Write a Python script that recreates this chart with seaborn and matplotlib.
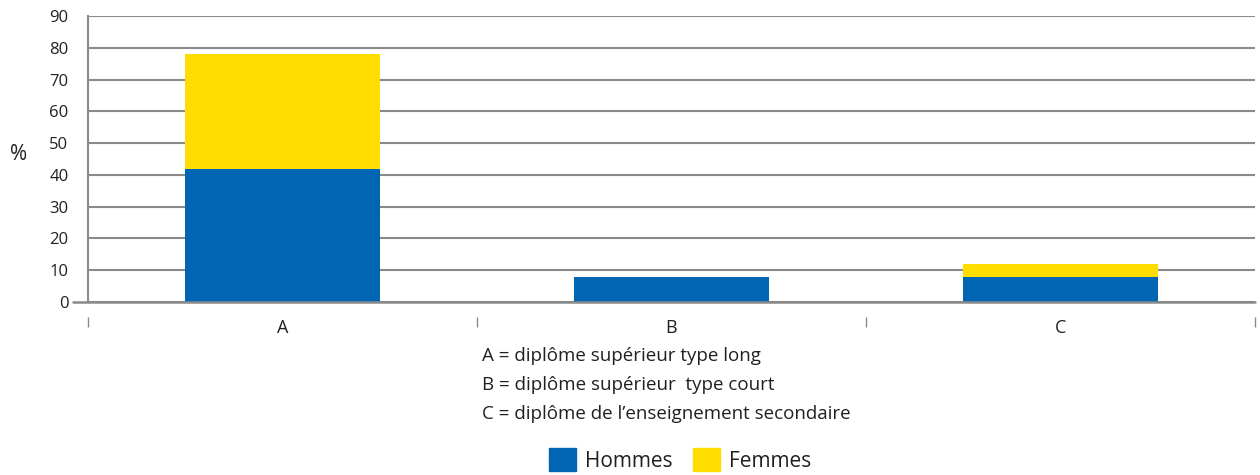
import matplotlib
matplotlib.use("Agg")
import matplotlib.pyplot as plt
import matplotlib.patches as mpatches
from matplotlib.ticker import FixedLocator
import seaborn as sns

categories = ["A", "B", "C"]
hommes = [42, 8, 8]
femmes = [36, 0, 4]
yticks = [0, 10, 20, 30, 40, 50, 60, 70, 80, 90]
notes = ["A = diplôme supérieur type long",
         "B = diplôme supérieur  type court",
         "C = diplôme de l\u2019enseignement secondaire"]
series_names = ["Hommes", "Femmes"]

BLUE = "#0066B3"
YELLOW = "#FFDD00"
GRID = "#8a8a8a"
TEXT = "#231f20"

sns.set_style("white")
plt.rcParams["font.family"] = ["Open Sans", "DejaVu Sans"]

fig = plt.figure(figsize=(12.6, 4.75), dpi=100)
ax = fig.add_axes([88/1260, 1-302/475, (1255-88)/1260, (302-16)/475])

sns.barplot(x=categories, y=hommes, color=BLUE, width=0.5, saturation=1,
            linewidth=0, ax=ax)
sns.barplot(x=categories, y=femmes, bottom=hommes, color=YELLOW, width=0.5,
            saturation=1, linewidth=0, ax=ax)

ax.set_xlim(-0.5, 2.5)
ax.set_ylim(0, 90)
ax.set_yticks(yticks)
ax.yaxis.grid(True, color=GRID, linewidth=1.5)
ax.set_axisbelow(True)
ax.tick_params(axis="y", length=0, pad=14, labelsize=12, colors=TEXT)

for s in ["top", "right"]:
    ax.spines[s].set_visible(False)
ax.spines["left"].set_color(GRID)
ax.spines["left"].set_linewidth(1.5)
ax.spines["bottom"].set_position(("outward", 11))
ax.spines["bottom"].set_visible(False)
ax.axhline(0, xmin=-0.013, xmax=1.0, color=GRID, linewidth=1.8, clip_on=False, zorder=5)

ax.xaxis.set_minor_locator(FixedLocator([-0.5, 0.5, 1.5, 2.5]))
ax.tick_params(axis="x", which="major", bottom=True, length=0, pad=1,
               labelsize=13, colors=TEXT)
ax.tick_params(axis="x", which="minor", bottom=True, length=7, width=1,
               color=GRID, direction="out")
ax.set_xlabel("")
ax.set_ylabel("")

fig.text(19/1260, 1-155/475, "%", fontsize=15, color=TEXT, ha="center", va="center")

for i, t in enumerate(notes):
    fig.text(482/1260, 1-(356 + 29*i)/475, t, fontsize=13.5, color=TEXT,
             ha="left", va="center")

handles = [mpatches.Patch(color=BLUE, label=series_names[0]),
           mpatches.Patch(color=YELLOW, label=series_names[1])]
fig.legend(handles=handles, loc="center", bbox_to_anchor=(680/1260, 1-460/475),
           ncol=2, frameon=False, fontsize=15, handlelength=1.3, handleheight=1.3,
           handletextpad=0.4, columnspacing=1.0, labelcolor=TEXT)

fig.savefig("out.png", dpi=100)
